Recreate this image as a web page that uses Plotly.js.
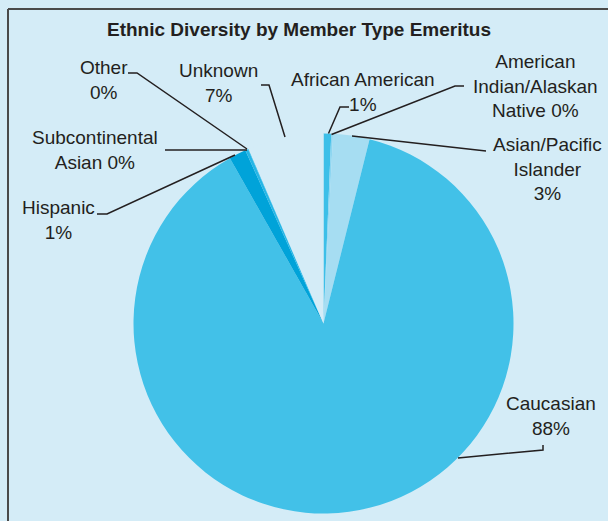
<!DOCTYPE html>
<html>
<head>
<meta charset="utf-8">
<script src="https://cdn.plot.ly/plotly-3.0.1.min.js"></script>
<style>html,body{margin:0;padding:0;background:#d4ecf7;}#chart{width:608px;height:521px;}</style>
</head>
<body>
<div id="chart"></div>
<script>
// ---- data (clockwise from 12 o'clock) ----
const categories = ["African American", "American Indian/Alaskan Native", "Asian/Pacific Islander", "Caucasian", "Hispanic", "Subcontinental Asian", "Other", "Unknown"];
const shares = [0.65, 0.15, 3.1, 87.9, 1.45, 0.25, 0.05, 6.45];
const labelTexts = [
  "African American<br>1%",
  "American<br>Indian/Alaskan<br>Native 0%",
  "Asian/Pacific<br>Islander<br>3%",
  "Caucasian<br>88%",
  "Hispanic<br>1%",
  "Subcontinental<br>Asian 0%",
  "Other<br>0%",
  "Unknown<br>7%"
];
const sliceColors = ["#3dbfe8", "#8ed6f1", "#a6ddf2", "#42c1e8", "#00a3d9", "#26b6e6", "#2ab8e8", "#d4ecf7"];

// ---- layout helpers (pixel -> paper) ----
const W = 608, H = 521;
const px = x => x / W;
const py = y => 1 - y / H;

// label positions (text block centres, px)
const labelPos = [
  [363, 92.5], [535, 86], [547, 168.5], [551, 416], [58, 219.5], [95, 150], [104, 79.5], [218, 83]
];
// leader lines (px)
const leaders = [
  [[349,107],[340,107],[328.5,133.5]],
  [[464,86],[455,86],[331.5,134.5]],
  [[352,136],[486,151]],
  [[543,445],[543,450],[458,458]],
  [[97,214],[107,214],[235,155]],
  [[165,150],[247,150]],
  [[128,73],[137,73],[247,149]],
  [[261,85],[269,85],[285,137]]
];

const textColor = "#231f20";
const fontFam = "Liberation Sans, Arial, Helvetica, sans-serif";

const annotations = labelTexts.map((t, i) => ({
  text: t, xref: "paper", yref: "paper",
  x: px(labelPos[i][0]), y: py(labelPos[i][1]),
  xanchor: "center", yanchor: "middle", align: "center",
  showarrow: false,
  font: {family: fontFam, size: 19, color: textColor}
}));

const shapes = leaders.map(pts => ({
  type: "path", xref: "paper", yref: "paper",
  path: pts.map((p, k) => (k ? "L" : "M") + px(p[0]) + "," + py(p[1])).join(" "),
  line: {color: textColor, width: 1.5}
}));
// outer frame
shapes.push({type: "line", xref: "paper", yref: "paper", x0: px(8), y0: py(9), x1: px(610), y1: py(9), line: {color: "#4a4a4a", width: 2}});
shapes.push({type: "line", xref: "paper", yref: "paper", x0: px(8), y0: py(9), x1: px(8), y1: py(523), line: {color: "#4a4a4a", width: 2}});

const cx = 323.5, cy = 323.5, R = 190;

const trace = {
  type: "pie",
  labels: categories,
  values: shares,
  sort: false,
  direction: "clockwise",
  rotation: 0,
  textinfo: "none",
  hoverinfo: "label+percent",
  marker: {colors: sliceColors, line: {width: 0}},
  domain: {x: [px(cx - R), px(cx + R)], y: [py(cy + R), py(cy - R)]},
  showlegend: false
};

const layout = {
  width: W, height: H,
  margin: {l: 0, r: 0, t: 0, b: 0},
  paper_bgcolor: "#d4ecf7",
  plot_bgcolor: "#d4ecf7",
  title: {
    text: "<b>Ethnic Diversity by Member Type Emeritus</b>",
    x: px(299), xanchor: "center", y: py(29), yanchor: "middle",
    font: {family: fontFam, size: 19, color: textColor}
  },
  annotations: annotations,
  shapes: shapes
};

Plotly.newPlot("chart", [trace], layout, {displayModeBar: false, staticPlot: true});
</script>
</body>
</html>
